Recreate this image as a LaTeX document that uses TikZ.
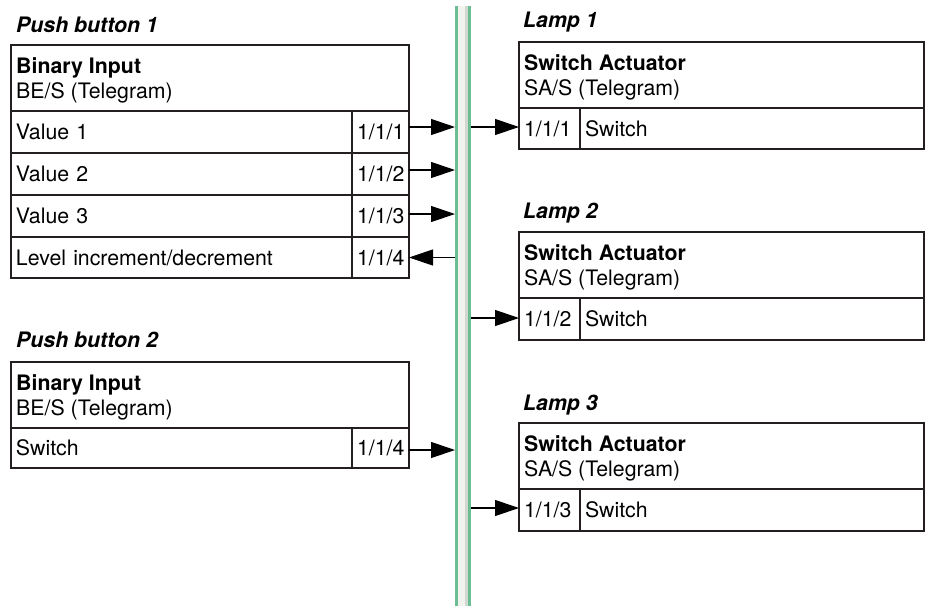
\documentclass[tikz,border=0pt]{standalone}
\usepackage{fontspec}
\setmainfont{TeX Gyre Heros}
\usetikzlibrary{arrows.meta}
\definecolor{linec}{RGB}{35,31,32}
\definecolor{busgreen}{RGB}{108,189,148}
\definecolor{buslight}{RGB}{242,242,238}
\definecolor{busgrey}{RGB}{208,216,208}
\newcommand{\fsz}{\fontsize{21.3}{24.5}\selectfont}
\tikzset{
  cell/.style={draw=linec, line width=2.6pt, inner xsep=5pt, inner ysep=0pt,
    outer sep=0pt, anchor=north west, align=left, font=\fsz},
  box/.style={draw=linec, line width=2.6pt, inner sep=0pt, outer sep=0pt, anchor=north west},
  htxt/.style={anchor=base west, inner sep=0pt, align=left, font=\fsz},
  ttl/.style={anchor=base west, inner sep=0pt, font=\fsz\bfseries\itshape},
  arr/.style={draw=black, line width=1.2pt, -{Triangle[length=24pt,width=16pt]}},
}
\begin{document}
\begin{tikzpicture}[x=1pt,y=-1pt]
\useasboundingbox (0,0) rectangle (930,606);
% bus
\node[fill=busgreen, inner sep=0pt, outer sep=0pt, anchor=north west,
  minimum width=16pt, minimum height=600pt] (bus) at (455,6) {};
\fill[buslight] ([xshift=3pt]bus.north west) rectangle ([xshift=10pt]bus.south west);
\fill[busgrey] ([xshift=10pt]bus.north west) rectangle ([xshift=13pt]bus.south west);

% Push button 1
\node[ttl] (t1) at (16,32) {Push button 1};
\node[box, minimum width=398pt, minimum height=66pt] (pb1h) at (11,45) {};
\node[htxt] (pb1ht) at (16,98) {\textbf{Binary Input}\\BE/S (Telegram)};
\node[cell, text width=331pt, minimum height=42pt] (pb1a) at (11,111) {Value 1};
\node[cell, text width=47pt, minimum height=42pt] (pb1aa) at (352,111) {1/1/1};
\node[cell, text width=331pt, minimum height=42pt] (pb1b) at (11,153) {Value 2};
\node[cell, text width=47pt, minimum height=42pt] (pb1ba) at (352,153) {1/1/2};
\node[cell, text width=331pt, minimum height=42pt] (pb1c) at (11,195) {Value 3};
\node[cell, text width=47pt, minimum height=42pt] (pb1ca) at (352,195) {1/1/3};
\node[cell, text width=331pt, minimum height=41pt] (pb1d) at (11,237) {Level increment/decrement};
\node[cell, text width=47pt, minimum height=41pt] (pb1da) at (352,237) {1/1/4};

% Push button 2
\node[ttl] (t2) at (16,347) {Push button 2};
\node[box, minimum width=398pt, minimum height=66pt] (pb2h) at (11,362) {};
\node[htxt] (pb2ht) at (16,415) {\textbf{Binary Input}\\BE/S (Telegram)};
\node[cell, text width=331pt, minimum height=40pt] (pb2a) at (11,428) {Switch};
\node[cell, text width=47pt, minimum height=40pt] (pb2aa) at (352,428) {1/1/4};

% Lamps
\node[ttl] (l1) at (523,27) {Lamp 1};
\node[box, minimum width=405pt, minimum height=66pt] (la1h) at (519,42) {};
\node[htxt] (la1ht) at (524,95) {\textbf{Switch Actuator}\\SA/S (Telegram)};
\node[cell, text width=51pt, minimum height=41pt] (la1a) at (519,108) {1/1/1};
\node[cell, text width=334pt, minimum height=41pt] (la1b) at (580,108) {Switch};

\node[ttl] (l2) at (523,218) {Lamp 2};
\node[box, minimum width=405pt, minimum height=66pt] (la2h) at (519,232) {};
\node[htxt] (la2ht) at (524,285) {\textbf{Switch Actuator}\\SA/S (Telegram)};
\node[cell, text width=51pt, minimum height=42pt] (la2a) at (519,298) {1/1/2};
\node[cell, text width=334pt, minimum height=42pt] (la2b) at (580,298) {Switch};

\node[ttl] (l3) at (523,410) {Lamp 3};
\node[box, minimum width=405pt, minimum height=66pt] (la3h) at (519,423) {};
\node[htxt] (la3ht) at (524,476) {\textbf{Switch Actuator}\\SA/S (Telegram)};
\node[cell, text width=51pt, minimum height=42pt] (la3a) at (519,489) {1/1/3};
\node[cell, text width=334pt, minimum height=42pt] (la3b) at (580,489) {Switch};

% connectors
\draw[arr] ([yshift=5pt]pb1aa.east) -- ([yshift=5pt]pb1aa.east -| bus.west);
\draw[arr] ([yshift=4pt]pb1ba.east) -- ([yshift=4pt]pb1ba.east -| bus.west);
\draw[arr] ([yshift=2pt]pb1ca.east) -- ([yshift=2pt]pb1ca.east -| bus.west);
\draw[arr] (pb1da.east -| bus.west) -- (pb1da.east);
\draw[arr] ([yshift=-2pt]pb2aa.east) -- ([yshift=-2pt]pb2aa.east -| bus.west);
\draw[arr] ([yshift=1.5pt]la1a.west -| bus.east) -- ([yshift=1.5pt]la1a.west);
\draw[arr] ([yshift=1pt]la2a.west -| bus.east) -- ([yshift=1pt]la2a.west);
\draw[arr] ([yshift=2pt]la3a.west -| bus.east) -- ([yshift=2pt]la3a.west);
\end{tikzpicture}
\end{document}
